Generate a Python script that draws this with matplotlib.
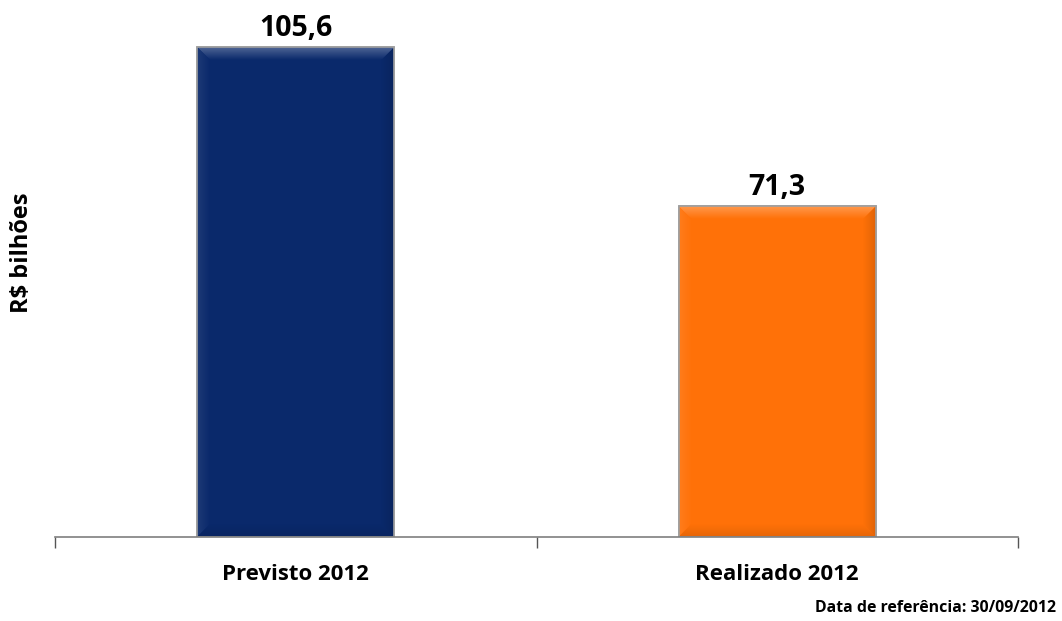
import numpy as np
import matplotlib
matplotlib.use("Agg")
import matplotlib.pyplot as plt
from matplotlib.patches import Polygon
from matplotlib.colors import to_rgb

categories = ["Previsto 2012", "Realizado 2012"]
values = [105.6, 71.3]
value_labels = ["105,6", "71,3"]
bar_colors = ["#0a296b", "#ff7108"]
ylabel = "R$ bilhões"
footnote = "Data de referência: 30/09/2012"

plt.rcParams["font.family"] = ["Open Sans", "DejaVu Sans"]

W, H = 1062, 621
fig = plt.figure(figsize=(W / 100, H / 100), dpi=100)
ax = fig.add_axes([55 / W, 84 / H, 963 / W, 533.6 / H])
ax.set_xlim(-0.5, len(categories) - 0.5)
ax.set_ylim(0, 115)

bar_w = 0.41
x = np.arange(len(categories))
bars = ax.bar(x, values, width=bar_w, color=bar_colors, edgecolor="#9a9a9a",
              linewidth=1.2, zorder=2)


def bevel(ax, rect, color, b=13):
    """Overlay a bevelled edge (four gradient trapezoids) on a bar."""
    fig.canvas.draw()
    to_px = ax.transData
    to_data = ax.transData.inverted()
    x0, y0 = rect.get_x(), rect.get_y()
    x1, y1 = x0 + rect.get_width(), y0 + rect.get_height()
    (px0, py0), (px1, py1) = to_px.transform([(x0, y0), (x1, y1)])
    base = np.array(to_rgb(color))
    # (polygon in pixels, edge colour factor, gradient direction)
    sides = {
        "top": ([(px0, py1), (px1, py1), (px1 - b, py1 - b), (px0 + b, py1 - b)], 0.28, "v_down"),
        "left": ([(px0, py0), (px0, py1), (px0 + b, py1 - b), (px0 + b, py0 + b)], 0.08, "h_right"),
        "right": ([(px1, py0), (px1, py1), (px1 - b, py1 - b), (px1 - b, py0 + b)], -0.12, "h_left"),
        "bottom": ([(px0, py0), (px1, py0), (px1 - b, py0 + b), (px0 + b, py0 + b)], -0.10, "v_up"),
    }
    n = 64
    t = np.linspace(0, 1, n)
    for name, (poly_px, f, d) in sides.items():
        poly = to_data.transform(poly_px)
        edge = base + (1 - base) * f if f > 0 else base * (1 + f)
        cols = edge[None, :] * (1 - t[:, None]) + base[None, :] * t[:, None]
        if d == "v_down":
            ylo = to_data.transform([(px0, py1 - b)])[0][1]
            ext = (x0, x1, ylo, y1)
            img = cols[::-1][:, None, :]
        elif d == "v_up":
            yhi = to_data.transform([(px0, py0 + b)])[0][1]
            ext = (x0, x1, y0, yhi)
            img = cols[:, None, :]
        elif d == "h_right":
            xhi = to_data.transform([(px0 + b, py0)])[0][0]
            ext = (x0, xhi, y0, y1)
            img = cols[None, :, :]
        else:
            xlo = to_data.transform([(px1 - b, py0)])[0][0]
            ext = (xlo, x1, y0, y1)
            img = cols[::-1][None, :, :]
        patch = Polygon(poly, closed=True, facecolor="none", edgecolor="none",
                        transform=ax.transData)
        ax.add_patch(patch)
        im = ax.imshow(img, extent=ext, origin="lower", aspect="auto",
                       interpolation="bilinear", zorder=3)
        im.set_clip_path(patch)
    # thin outer rim
    ax.add_patch(Polygon([(x0, y0), (x0, y1), (x1, y1), (x1, y0)], closed=True,
                         facecolor="none", edgecolor="#a0a0a0", linewidth=1.2, zorder=4))


for rect, c in zip(bars, bar_colors):
    bevel(ax, rect, c)

ax.set_xlim(-0.5, len(categories) - 0.5)
ax.set_ylim(0, 115)

for xi, v, lab in zip(x, values, value_labels):
    ax.annotate(lab, (xi, v), xytext=(0, 8), textcoords="offset points",
                ha="center", va="baseline", fontsize=20.5, fontweight="bold", color="black")

for s in ("top", "right", "left"):
    ax.spines[s].set_visible(False)
ax.spines["bottom"].set_color("#7f7f7f")
ax.spines["bottom"].set_linewidth(1.2)
ax.spines["bottom"].set_zorder(5)

ax.set_yticks([])
ax.set_xticks(x)
ax.set_xticklabels(categories, fontsize=16, fontweight="bold")
ax.tick_params(axis="x", which="major", length=0, pad=19.5)
ax.set_xticks(np.arange(-0.5, len(categories)), minor=True)
ax.tick_params(axis="x", which="minor", length=8, width=1, color="#555555")

fig.text(22 / W, 1 - 253 / H, ylabel, rotation=90, ha="center", va="center",
         fontsize=17, fontweight="bold")
fig.text(1056 / W, 1 - 608 / H, footnote, ha="right", va="center",
         fontsize=11.4, fontweight="bold")

fig.savefig("out.png", dpi=100)
